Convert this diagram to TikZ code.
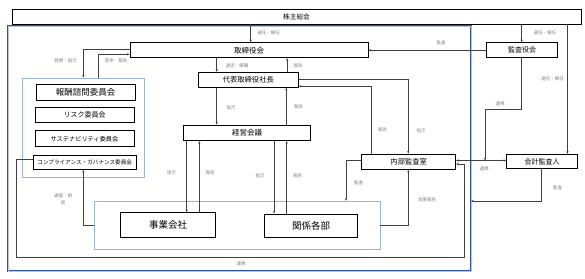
\documentclass[tikz,border=0pt]{standalone}
\usepackage{fontspec}
\setmainfont{Noto Sans CJK JP}
\usetikzlibrary{arrows.meta}
\definecolor{lineC}{HTML}{404040}
\definecolor{lblC}{HTML}{7F7F7F}
\definecolor{blueC}{HTML}{2F5597}
\definecolor{grpC}{HTML}{9DB3DB}
\newcommand{\fs}[1]{\fontsize{#1}{#1}\selectfont}
\begin{document}
\begin{tikzpicture}[x=1pt,y=-1pt,
 box/.style={draw=black, line width=0.9pt, fill=white, inner sep=0pt, align=center},
 grp/.style={draw=grpC, line width=0.5pt, inner sep=0pt},
 lbl/.style={text=lblC, font=\fontsize{4.5}{7}\selectfont, inner sep=0pt, align=center},
 arr/.style={draw=lineC, line width=0.7pt, -{Stealth[length=2.6pt,width=2.2pt]}},
 darr/.style={draw=lineC, line width=0.7pt, {Stealth[length=2.6pt,width=2.2pt]}-{Stealth[length=2.6pt,width=2.2pt]}},
 ln/.style={draw=lineC, line width=0.7pt},
]
\useasboundingbox (0,0) rectangle (585,278);

% frames and groups
\node[draw=blueC, double=blueC!35, double distance=0.4pt, line width=0.7pt, minimum width=462.7pt, minimum height=245pt, inner sep=0pt] (outer) at (239.35,148.5) {};
\node[grp, minimum width=121.6pt, minimum height=99.2pt] (comgrp) at (83.5,127.4) {};
\node[grp, minimum width=285.7pt, minimum height=47.7pt] (cogrp) at (237.2,224.9) {};

% boxes
\node[box, minimum width=569pt, minimum height=15pt, font=\fs{6.7}] (kabu) at (296.5,16.5) {株主総会};
\node[box, minimum width=238pt, minimum height=15pt, font=\fs{7.5}] (tor) at (249,50.2) {取締役会};
\node[box, minimum width=70.3pt, minimum height=15pt, font=\fs{7}] (kansa) at (522,50.2) {監査役会};
\node[box, minimum width=100pt, minimum height=15pt, font=\fs{7.3}] (pres) at (248.3,79.8) {代表取締役社長};
\node[box, minimum width=127.4pt, minimum height=15.7pt, font=\fs{7.5}] (keiei) at (247,132.8) {経営会議};
\node[box, minimum width=94pt, minimum height=15.3pt, font=\fs{7.3}] (naibu) at (408.7,161.7) {内部監査室};
\node[box, minimum width=71pt, minimum height=14.4pt, font=\fs{7}] (kaikei) at (542.2,161.5) {会計監査人};
\node[box, minimum width=95pt, minimum height=24.3pt, font=\fs{9.5}] (jigyo) at (168.2,224.8) {事業会社};
\node[box, minimum width=93.7pt, minimum height=23.3pt, font=\fs{9.5}] (kankei) at (311,225.6) {関係各部};
\node[box, minimum width=99pt, minimum height=16pt, font=\fs{8.5}] (c1) at (85.5,92) {報酬諮問委員会};
\node[box, minimum width=99pt, minimum height=15.4pt, font=\fs{7}] (c2) at (84.5,115) {リスク委員会};
\node[box, minimum width=99pt, minimum height=16pt, font=\fs{6.2}] (c3) at (84.5,138.7) {サステナビリティ委員会};
\node[box, minimum width=102.7pt, minimum height=14.3pt, font=\fs{5.6}] (c4) at (84.7,162.2) {コンプライアンス・ガバナンス委員会};

% connectors
\draw[arr] (kabu.south -| 250.7,0) -- (tor.north -| 250.7,0);
\draw[arr] (kabu.south -| 521.7,0) -- (kansa.north -| 521.7,0);
\draw[arr] (kabu.south -| 567.5,0) -- (kaikei.north -| 567.5,0);
\draw[arr] (kansa.west) -- (tor.east);
\draw[arr] (kansa.south -| 521.7,0) |- (485,109.3) -- (485,160.5);
\draw[darr] (naibu.east |- 0,160.5) -- (kaikei.west |- 0,160.5);
\draw[arr] (kaikei.south -| 541.7,0) |- (outer.east |- 0,201);
\draw[arr] (tor.west |- 0,49.5) -| (comgrp.north -| 83.3,0);
\draw[arr] (comgrp.north -| 98.3,0) |- (tor.west |- 0,54.3);
\draw[arr] (tor.south -| 216.7,0) -- (pres.north -| 216.7,0);
\draw[arr] (pres.north -| 287,0) -- (tor.south -| 287,0);
\draw[arr] (pres.south -| 216.7,0) -- (keiei.north -| 216.7,0);
\draw[arr] (keiei.north -| 286.3,0) -- (pres.south -| 286.3,0);
\draw[arr] (pres.east |- 0,79.3) -| (naibu.north -| 408.3,0);
\draw[arr] (naibu.north -| 371,0) |- (pres.east |- 0,86.3);
\draw[arr] (keiei.south -| 186.7,0) -- (jigyo.north -| 186.7,0);
\draw[arr] (jigyo.north -| 199.3,0) -- (keiei.south -| 199.3,0);
\draw[arr] (keiei.south -| 274,0) -- (kankei.north -| 274,0);
\draw[arr] (kankei.north -| 286.7,0) -- (keiei.south -| 286.7,0);
\draw[arr] (naibu.west |- 0,160.7) -| (cogrp.north -| 346,0);
\draw[arr] (cogrp.east |- 0,225) -| (naibu.south -| 408.3,0);
\draw[arr] (cogrp.west |- 0,225) -| (c4.south -| 83.3,0);
\draw[arr] (c4.west |- 0,159.5) -| (16,257.7) -| (464,164) -- (naibu.east |- 0,164);

% labels
\node[lbl] (l1) at (268.5,33) {選任・解任};
\node[lbl] (l2) at (545,33) {選任・解任};
\node[lbl] (l3) at (441,42.5) {監査};
\node[lbl] (l4) at (552.5,79) {選任・解任};
\node[lbl] (l5) at (500,104) {連携};
\node[lbl] (l6) at (484,168.5) {連携};
\node[lbl] (l7) at (557.5,188) {監査};
\node[lbl] (l8) at (65.5,61) {諮問・指示};
\node[lbl] (l9) at (116,61) {答申・報告};
\node[lbl] (l10) at (237,65.7) {選定・解職};
\node[lbl] (l11) at (298,65.7) {報告};
\node[lbl] (l12) at (231,107.3) {指示};
\node[lbl] (l13) at (298.7,107) {報告};
\node[lbl] (l14) at (382.5,130) {報告};
\node[lbl] (l15) at (421,130.7) {指示};
\node[lbl] (l16) at (171.7,172.7) {指示};
\node[lbl] (l17) at (210,173.3) {報告};
\node[lbl] (l18) at (260,176) {指示};
\node[lbl] (l19) at (297.7,176) {報告};
\node[lbl] (l20) at (63,199.5) {通報・相\\談};
\node[lbl] (l21) at (358.5,182.7) {監査};
\node[lbl] (l22) at (427,200) {改善報告};
\node[lbl] (l23) at (241,263.3) {連携};
\end{tikzpicture}
\end{document}
